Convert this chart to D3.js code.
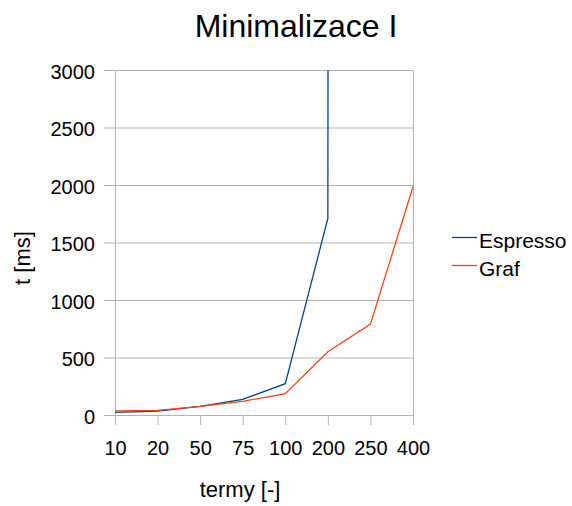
<!DOCTYPE html>
<meta charset="utf-8">
<style>
  body { margin: 0; background: #fff; }
  svg { font-family: "Liberation Sans", Arial, sans-serif; }
  .grid line { stroke: #b3b3b3; }
  .grid text, .xaxis text { fill: #000; font-size: 20px; }
  .xaxis line { stroke: #b3b3b3; }
  .domain { display: none; }
</style>
<body></body>
<script src="https://d3js.org/d3.v7.min.js"></script>
<script>
// categories on the x axis (number of terms)
var terms = ["10", "20", "50", "75", "100", "200", "250", "400"];
// times in ms; Espresso blows up after 200
var espresso = [22, 33, 75, 136, 272, 1710, 400000, null];
var graf = [35, 40, 75, 119, 185, 550, 790, 1985];
var yTicks = [0, 500, 1000, 1500, 2000, 2500, 3000];

var series = [
  {name: "Espresso", values: espresso, color: "#004586"},
  {name: "Graf", values: graf, color: "#ff420e"}
];

var W = 572, H = 506;
var plotL = 115, plotR = 413, plotT = 70, plotB = 415;

var svg = d3.select("body").append("svg")
  .attr("width", W)
  .attr("height", H);

var x = d3.scalePoint().domain(terms).range([plotL, plotR]);
var y = d3.scaleLinear().domain([0, 3000]).range([plotB, plotT]);

// horizontal gridlines + y labels
svg.append("g")
  .attr("class", "grid")
  .attr("transform", "translate(" + (plotL - 11) + ",0)")
  .call(d3.axisLeft(y).tickValues(yTicks).tickFormat(d3.format("d"))
    .tickSize(-(plotR - plotL + 11)).tickPadding(9))
  .selectAll("text").attr("dy", "0.42em");

// x axis ticks + labels
svg.append("g")
  .attr("class", "xaxis")
  .attr("transform", "translate(0," + plotB + ")")
  .call(d3.axisBottom(x).tickSize(10).tickPadding(16));

// left axis and right border
svg.append("line")
  .attr("x1", plotL + 0.5).attr("x2", plotL + 0.5)
  .attr("y1", plotT).attr("y2", plotB + 10)
  .attr("stroke", "#b3b3b3");
svg.append("line")
  .attr("x1", plotR + 0.5).attr("x2", plotR + 0.5)
  .attr("y1", plotT).attr("y2", plotB)
  .attr("stroke", "#b3b3b3");

svg.append("clipPath").attr("id", "plot")
  .append("rect")
  .attr("x", plotL).attr("y", plotT)
  .attr("width", plotR - plotL + 1).attr("height", plotB - plotT + 1);

var line = d3.line()
  .defined(function(d) { return d != null; })
  .x(function(d, i) { return x(terms[i]); })
  .y(function(d) { return y(d); });

svg.append("g").attr("clip-path", "url(#plot)")
  .selectAll("path")
  .data(series)
  .enter().append("path")
  .attr("fill", "none")
  .attr("stroke", function(d) { return d.color; })
  .attr("stroke-width", 1.3)
  .attr("d", function(d) { return line(d.values); });

// title + axis titles
svg.append("text")
  .attr("x", 296).attr("y", 37)
  .attr("text-anchor", "middle")
  .attr("font-size", 32)
  .text("Minimalizace I");

svg.append("text")
  .attr("x", 240).attr("y", 497)
  .attr("text-anchor", "middle")
  .attr("font-size", 22)
  .text("termy [-]");

svg.append("text")
  .attr("transform", "translate(30,258) rotate(-90)")
  .attr("text-anchor", "middle")
  .attr("font-size", 22)
  .text("t [ms]");

// legend
var legend = svg.selectAll("g.leg")
  .data(series)
  .enter().append("g")
  .attr("class", "leg")
  .attr("transform", function(d, i) { return "translate(452," + (241 + i * 28) + ")"; });

legend.append("line")
  .attr("x1", 0).attr("x2", 25)
  .attr("y1", -3.5).attr("y2", -3.5)
  .attr("stroke", function(d) { return d.color; })
  .attr("stroke-width", 1.3);

legend.append("text")
  .attr("x", 27).attr("y", 7)
  .attr("font-size", 21)
  .text(function(d) { return d.name; });
</script>
